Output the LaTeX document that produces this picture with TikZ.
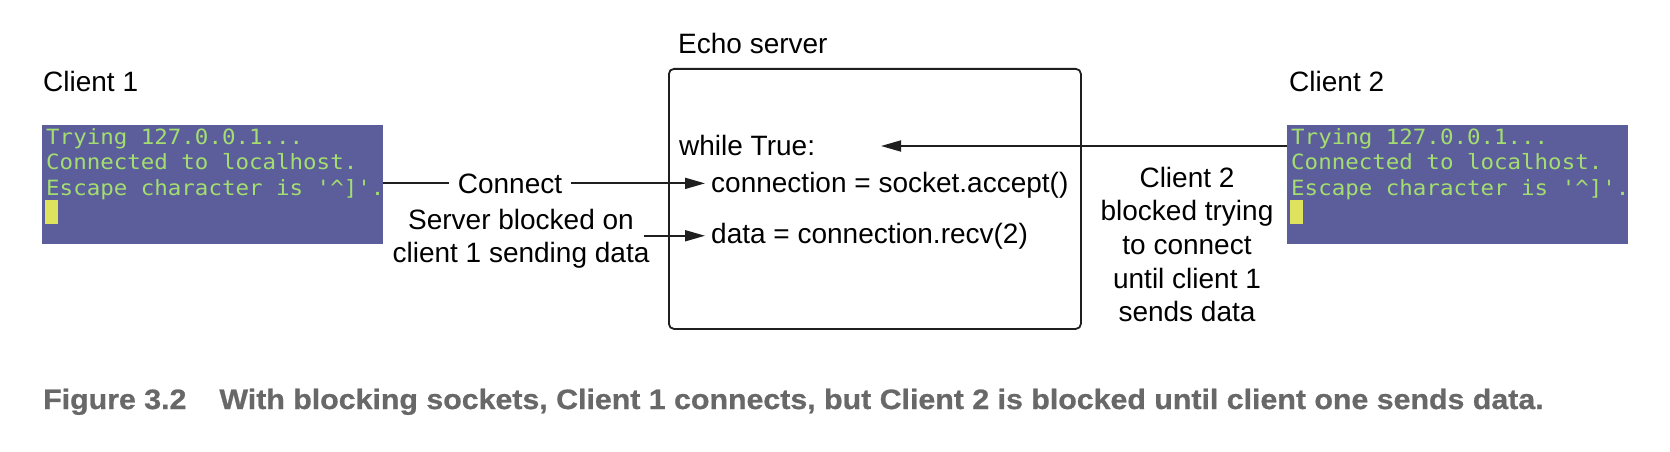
\documentclass[tikz,border=0pt]{standalone}
\usepackage{fontspec}
\setmainfont{Liberation Sans}
\setmonofont[FakeStretch=1.07]{DejaVu Sans Mono}
\newfontfamily\capfont[FakeStretch=1.083,FakeBold=0.8]{Liberation Sans Bold}
\usetikzlibrary{arrows.meta}
\definecolor{termbg}{RGB}{91,94,154}
\definecolor{termfg}{RGB}{164,222,112}
\definecolor{cursorc}{RGB}{222,226,92}
\definecolor{capgray}{RGB}{104,104,104}
\begin{document}
\begin{tikzpicture}[x=1pt,y=-1pt,
  lbl/.style={inner sep=0pt, font=\fontsize{28}{33}\selectfont},
  termbox/.style={fill=termbg, draw=none, inner sep=0pt, minimum width=341pt, minimum height=119pt, anchor=north west},
  ttxt/.style={inner sep=0pt, anchor=base west, text=termfg, font=\ttfamily\fontsize{21}{25.5}\selectfont},
  cursorbox/.style={fill=cursorc, draw=none, inner sep=0pt, minimum width=13pt, minimum height=24pt, anchor=north west},
  conn/.style={line width=1.8pt, draw=black!88},
  arr/.style={conn, -{Triangle[length=20pt,width=11pt]}},
]
\useasboundingbox (0,0) rectangle (1670,452);

% Client 1
\node[lbl, anchor=base west] (c1) at (43,92) {Client 1};
\node[termbox] (t1) at (42,125) {};
\node[ttxt] (t1a) at (46,144) {Trying 127.0.0.1...};
\node[ttxt] (t1b) at (46,169.5) {Connected to localhost.};
\node[ttxt] (t1c) at (46,195) {Escape character is '\textasciicircum]'.};
\node[cursorbox] (cur1) at (45,200) {};

% Client 2
\node[lbl, anchor=base west] (c2) at (1289,92) {Client 2};
\node[termbox] (t2) at (1287,125) {};
\node[ttxt] (t2a) at (1291,144) {Trying 127.0.0.1...};
\node[ttxt] (t2b) at (1291,169.5) {Connected to localhost.};
\node[ttxt] (t2c) at (1291,195) {Escape character is '\textasciicircum]'.};
\node[cursorbox] (cur2) at (1290,200) {};

% Server
\node[lbl, anchor=base west] (echo) at (678,53) {Echo server};
\node[draw, line width=1.8pt, draw=black!88, rounded corners=5pt, inner sep=0pt,
      minimum width=412pt, minimum height=260pt, anchor=north west] (server) at (668,68) {};
\node[lbl, anchor=base west] (while) at (679,155) {while True:};
\node[lbl, anchor=base west, inner xsep=6pt] (accept) at (705,192) {connection = socket.accept()};
\node[lbl, anchor=base west, inner xsep=6pt] (recv) at (705,243) {data = connection.recv(2)};

% Labels
\node[lbl, anchor=base, inner xsep=9pt] (connect) at (510,193) {Connect};
\node[lbl, align=center, font=\fontsize{28}{33}\selectfont] (blocked) at (521,238.5) {Server blocked on\\client 1 sending data};
\node[lbl, align=center, font=\fontsize{28}{33.7}\selectfont] (waiting) at (1187,244.5) {Client 2\\blocked trying\\to connect\\until client 1\\sends data};

% Connectors
\draw[conn] (t1.east |- connect.west) -- (connect.west);
\draw[arr] (connect.east) -- (connect.east -| accept.west);
\draw[arr] ([xshift=-6pt]blocked.east |- recv.west) -- (recv.west);
\coordinate (wtip) at (881,146);
\draw[arr] (t2.west |- wtip) -- (wtip);

% Caption
\node[anchor=base west, inner sep=0pt, text=capgray, font=\capfont\fontsize{28}{30}\selectfont] (cap) at (43,409)
  {Figure 3.2\hspace{33pt}With blocking sockets, Client 1 connects, but Client 2 is blocked until client one sends data.};
\end{tikzpicture}
\end{document}
